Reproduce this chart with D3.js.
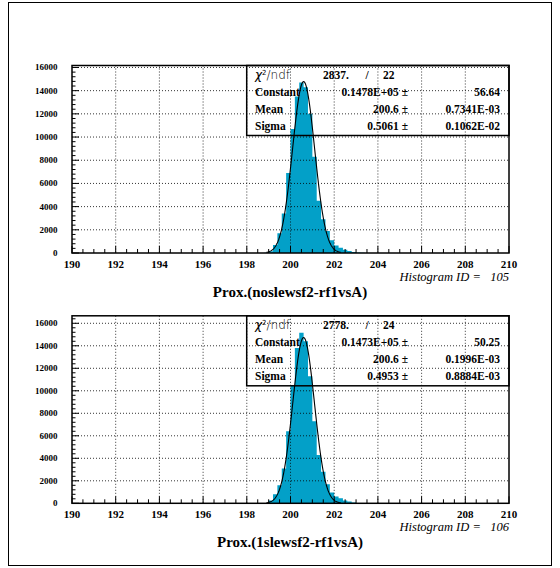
<!DOCTYPE html>
<html>
<head>
<meta charset="utf-8">
<script src="https://cdn.jsdelivr.net/npm/d3@7/dist/d3.min.js"></script>
<style>
  body { margin: 0; background: #fff; }
  svg { display: block; }
</style>
</head>
<body>
<div id="main"></div>
<script>
const width = 560;
const height = 568;

// histogram bins (low edges), bin width 0.2
const binLow = [198.8, 199.0, 199.2, 199.4, 199.6, 199.8, 200.0, 200.2, 200.4, 200.6, 200.8,
  201.0, 201.2, 201.4, 201.6, 201.8, 202.0, 202.2, 202.4, 202.6, 202.8, 203.0, 203.2];
const binWidth = 0.2;

const counts105 = [20, 150, 700, 1700, 3400, 6900, 10700, 13500, 14700, 14300, 12000,
  8300, 4500, 2900, 1900, 1100, 650, 450, 280, 170, 90, 40, 15];
const counts106 = [30, 250, 800, 1600, 3100, 6400, 10500, 13800, 15150, 14400, 11300,
  7300, 4300, 2800, 1700, 950, 600, 450, 250, 150, 80, 35, 10];

const xDomain = [190, 210];
const xMajor = [190, 192, 194, 196, 198, 200, 202, 204, 206, 208, 210];
const yMajor = [0, 2000, 4000, 6000, 8000, 10000, 12000, 14000, 16000];

const titles = ["Prox.(noslewsf2-rf1vsA)", "Prox.(1slewsf2-rf1vsA)"];
const histIds = ["105", "106"];
const chi2 = ["2837.", "2778."];
const ndf = ["22", "24"];
const constants = ["0.1478E+05", "0.1473E+05"];
const constErrs = ["56.64", "50.25"];
const means = ["200.6", "200.6"];
const meanErrs = ["0.7341E-03", "0.1996E-03"];
const sigmas = ["0.5061", "0.4953"];
const sigmaErrs = ["0.1062E-02", "0.8884E-03"];
const fitRange = [198.9, 202.3];

const svg = d3.select("#main").append("svg").attr("width", width).attr("height", height);

svg.append("rect")
  .attr("x", 8.5).attr("y", 2.5)
  .attr("width", 543).attr("height", 563)
  .attr("fill", "none").attr("stroke", "#000").attr("stroke-width", 1);

const serif = "'Liberation Serif', 'Times New Roman', serif";
const left = 72, right = 509, plotH = 187.5;
const tops = [65.5, 315.8];

const drawPanel = (i, counts) => {
  const top = tops[i];
  const bottom = top + plotH;
  const g = svg.append("g");

  const x = d3.scaleLinear().domain(xDomain).range([left, right]);
  const y = d3.scaleLinear().domain([0, d3.max(counts) * 1.1]).range([bottom, top]);

  // histogram as one stepped area
  const steps = binLow.map((b, k) => ({ b: b, c: counts[k] }));
  steps.push({ b: binLow[binLow.length - 1] + binWidth, c: 0 });
  const area = d3.area()
    .curve(d3.curveStepAfter)
    .x((d) => x(d.b))
    .y0(bottom)
    .y1((d) => y(d.c));
  g.append("path")
    .attr("d", area(steps))
    .attr("fill", "#03a0c8");

  // grid
  g.selectAll("line.vgrid")
    .data(xMajor.slice(1, -1))
    .enter().append("line")
    .attr("x1", (d) => x(d)).attr("x2", (d) => x(d))
    .attr("y1", top).attr("y2", bottom)
    .attr("stroke", "#000").attr("stroke-width", 0.8)
    .attr("stroke-dasharray", "1,2");
  g.selectAll("line.hgrid")
    .data(yMajor.slice(1))
    .enter().append("line")
    .attr("x1", left).attr("x2", right)
    .attr("y1", (d) => y(d)).attr("y2", (d) => y(d))
    .attr("stroke", "#000").attr("stroke-width", 0.8)
    .attr("stroke-dasharray", "1,2");

  // gaussian fit
  const c = parseFloat(constants[i]);
  const mu = parseFloat(means[i]);
  const s = parseFloat(sigmas[i]);
  const fitX = d3.range(fitRange[0], fitRange[1] + 0.001, 0.02);
  const line = d3.line()
    .x((v) => x(v))
    .y((v) => y(c * Math.exp(-0.5 * ((v - mu) / s) ** 2)));
  g.append("path")
    .attr("d", line(fitX))
    .attr("fill", "none").attr("stroke", "#000").attr("stroke-width", 1.1);

  // ticks
  const xMinor = d3.range(xDomain[0], xDomain[1] + 0.01, 0.5);
  g.selectAll("line.xt")
    .data(xMinor)
    .enter().append("line")
    .attr("x1", (d) => x(d)).attr("x2", (d) => x(d))
    .attr("y1", bottom)
    .attr("y2", (d) => bottom - (d % 2 === 0 ? 7 : 4))
    .attr("stroke", "#000").attr("stroke-width", 1);
  const yMinor = d3.range(0, y.domain()[1], 400);
  g.selectAll("line.yt")
    .data(yMinor)
    .enter().append("line")
    .attr("x1", left)
    .attr("x2", (d) => left + (d % 2000 === 0 ? 7 : 3.5))
    .attr("y1", (d) => y(d)).attr("y2", (d) => y(d))
    .attr("stroke", "#000").attr("stroke-width", 1);

  // tick labels
  g.selectAll("text.xl")
    .data(xMajor)
    .enter().append("text")
    .attr("x", (d) => x(d)).attr("y", bottom + 15)
    .attr("text-anchor", "middle")
    .style("font-family", serif).style("font-weight", "bold").style("font-size", "11px")
    .text((d) => d);
  g.selectAll("text.yl")
    .data(yMajor)
    .enter().append("text")
    .attr("x", 57.5).attr("y", (d) => y(d) + 3)
    .attr("text-anchor", "end")
    .style("font-family", serif).style("font-weight", "bold").style("font-size", "9px")
    .text((d) => d);

  // frame
  g.append("rect")
    .attr("x", left).attr("y", top)
    .attr("width", right - left).attr("height", plotH)
    .attr("fill", "none").attr("stroke", "#000").attr("stroke-width", 1.5);

  // stats box
  const bx = 246.7;
  g.append("rect")
    .attr("x", bx).attr("y", top)
    .attr("width", right - bx).attr("height", 70)
    .attr("fill", "none").attr("stroke", "#000").attr("stroke-width", 1.5);

  const bold = (t, xx, yy, anchor) => g.append("text")
    .attr("x", xx).attr("y", yy)
    .attr("text-anchor", anchor || "start")
    .style("font-family", serif).style("font-weight", "bold").style("font-size", "11.5px")
    .text(t);

  const chiText = g.append("text")
    .attr("x", 255).attr("y", top + 13.5)
    .style("font-family", "'DejaVu Sans', sans-serif").style("font-size", "12px");
  chiText.append("tspan").style("font-style", "italic").text("\u03c7");
  chiText.append("tspan").attr("dy", -4).style("font-size", "7px").text("2");
  chiText.append("tspan").attr("dy", 4).style("font-weight", "200").text("/ndf");

  bold(chi2[i], 323, top + 13.5);
  bold("/", 367, top + 13.5, "middle");
  bold(ndf[i], 383, top + 13.5);

  const rows = [["Constant", constants[i], constErrs[i]], ["Mean", means[i], meanErrs[i]],
    ["Sigma", sigmas[i], sigmaErrs[i]]];
  rows.forEach((r, k) => {
    const yy = top + 30.5 + k * 17;
    bold(r[0], 255, yy);
    bold(r[1] + " \u00b1", 408, yy, "end");
    bold(r[2], 500, yy, "end");
  });

  // histogram id and title
  g.append("text")
    .attr("x", right).attr("y", bottom + 28)
    .attr("text-anchor", "end")
    .style("font-family", serif).style("font-style", "italic").style("font-size", "12.5px")
    .attr("xml:space", "preserve")
    .text("Histogram ID =   " + histIds[i]);
  g.append("text")
    .attr("x", 290).attr("y", bottom + 44)
    .attr("text-anchor", "middle")
    .style("font-family", serif).style("font-weight", "bold").style("font-size", "15px")
    .text(titles[i]);
};

drawPanel(0, counts105);
drawPanel(1, counts106);
</script>
</body>
</html>
